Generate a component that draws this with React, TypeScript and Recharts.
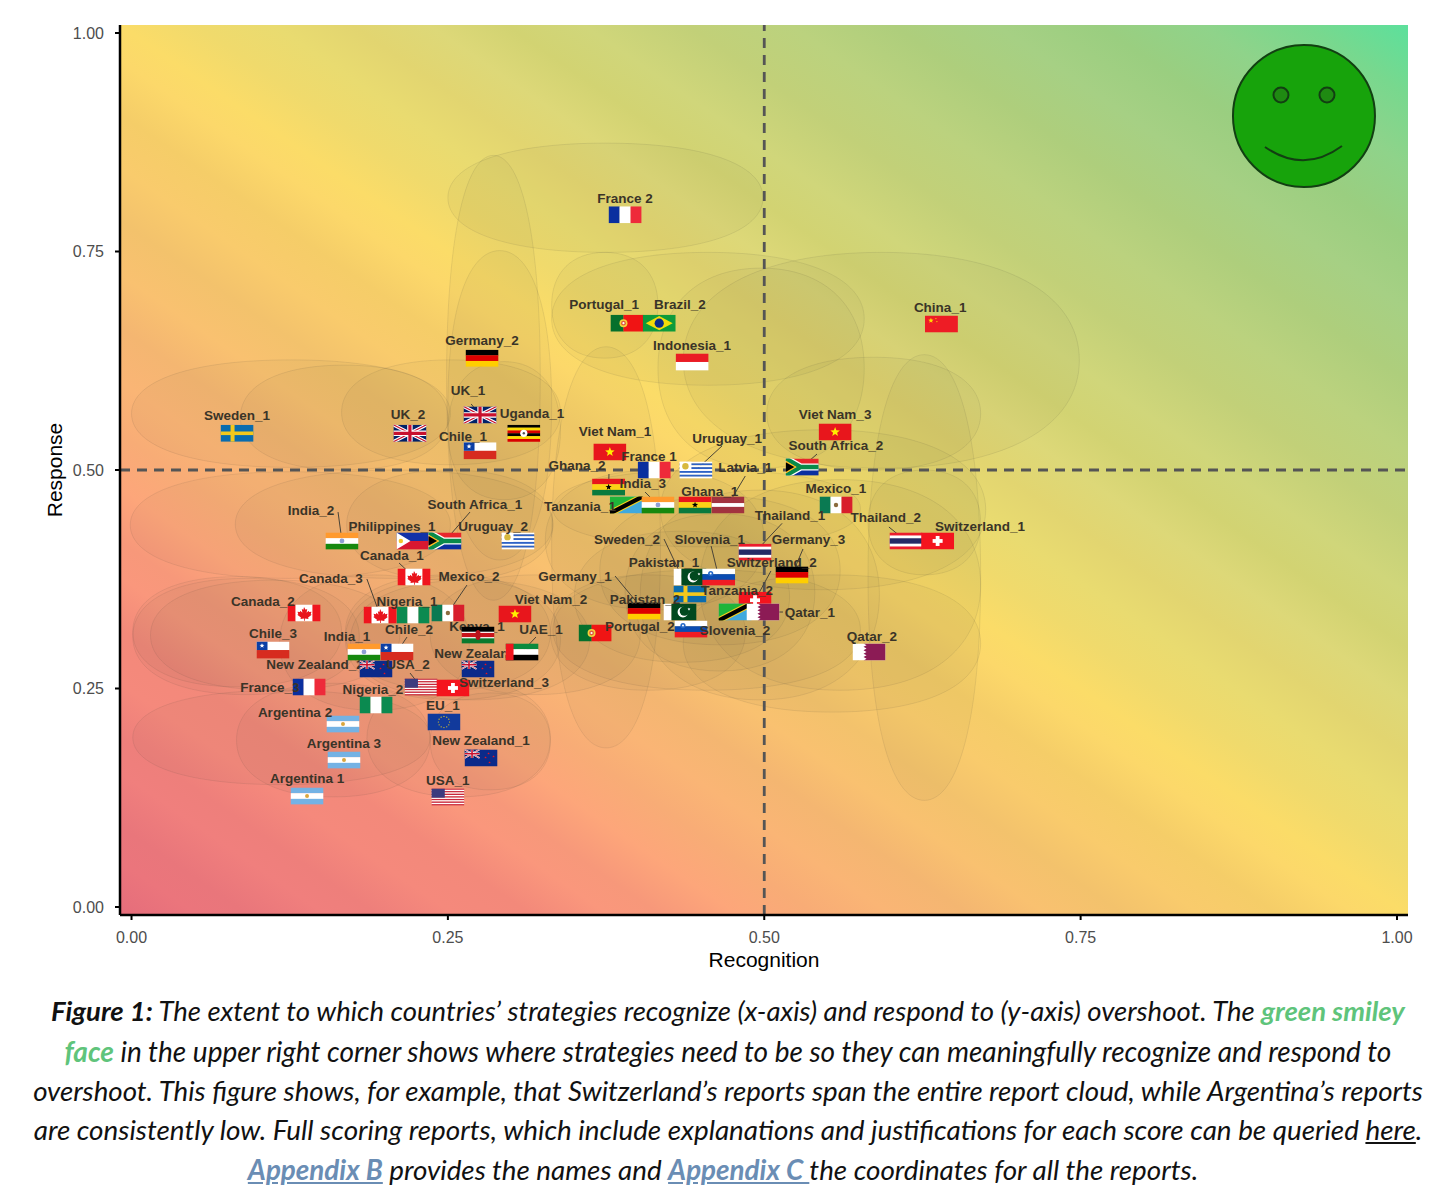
import type { ReactNode } from 'react';
import {
  ReferenceArea,
  ReferenceLine,
  Scatter,
  ScatterChart,
  XAxis,
  YAxis,
} from 'recharts';

// reports, in the drawing order of the flags
const reportNames = [
  'France 2', 'China_1', 'Portugal_1', 'Brazil_2', 'Indonesia_1', 'Germany_2', 'UK_1', 'Uganda_1', 'UK_2', 'Sweden_1',
  'Chile_1', 'Viet Nam_1', 'Viet Nam_3', 'Uruguay_1', 'South Africa_2', 'France 1', 'Ghana_1', 'Latvia_1', 'Ghana_2', 'Tanzania_1',
  'India_3', 'Mexico_1', 'Thailand_1', 'Thailand_2', 'Switzerland_1', 'Germany_3', 'Switzerland_2', 'Sweden_2', 'Pakistan_1', 'Slovenia_1',
  'Germany_1', 'Pakistan_2', 'Tanzania_2', 'Qatar_1', 'Qatar_2', 'Slovenia_2', 'Portugal_2', 'Viet Nam_2', 'New Zealand_3', 'UAE_1',
  'Kenya_1', 'Nigeria_1', 'Mexico_2', 'Canada_1', 'Canada_3', 'Canada_2', 'Philippines_1', 'South Africa_1', 'Uruguay_2', 'India_2',
  'Chile_3', 'India_1', 'Chile_2', 'New Zealand_2', 'USA_2', 'Switzerland_3', 'France_3', 'Nigeria_2', 'Argentina 2', 'EU_1',
  'Argentina 3', 'New Zealand_1', 'Argentina 1', 'USA_1',
];
const flagCodes = [
  'fr', 'cn', 'pt', 'br', 'id', 'de', 'uk', 'ug', 'uk', 'se',
  'cl', 'vn', 'vn', 'uy', 'za', 'fr', 'gh', 'lv', 'gh', 'tz',
  'in', 'mx', 'th', 'th', 'ch', 'de', 'ch', 'se', 'pk', 'si',
  'de', 'pk', 'tz', 'qa', 'qa', 'si', 'pt', 'vn', 'nz', 'ae',
  'ke', 'ng', 'mx', 'ca', 'ca', 'ca', 'ph', 'za', 'uy', 'in',
  'cl', 'in', 'cl', 'nz', 'us', 'ch', 'fr', 'ng', 'ar', 'eu',
  'ar', 'nz', 'ar', 'us',
];
const recognition = [
  0.390, 0.640, 0.3915, 0.417, 0.443, 0.277, 0.2754, 0.310, 0.220, 0.0834,
  0.2754, 0.378, 0.556, 0.446, 0.530, 0.413, 0.4453, 0.4713, 0.377, 0.391,
  0.416, 0.5567, 0.4927, 0.612, 0.637, 0.5219, 0.4927, 0.4413, 0.4413, 0.464,
  0.405, 0.4334, 0.477, 0.499, 0.5828, 0.4421, 0.3663, 0.303, 0.2738, 0.3086,
  0.2738, 0.2224, 0.250, 0.2232, 0.1964, 0.1363, 0.2224, 0.2477, 0.3054, 0.1663,
  0.1118, 0.1837, 0.2098, 0.1932, 0.2288, 0.254, 0.1403, 0.1932, 0.1671, 0.2469,
  0.1679, 0.2762, 0.1387, 0.250,
];
const response = [
  0.792, 0.667, 0.668, 0.668, 0.6236, 0.628, 0.563, 0.542, 0.542, 0.542,
  0.522, 0.5206, 0.5435, 0.500, 0.5034, 0.500, 0.460, 0.460, 0.4805, 0.460,
  0.460, 0.460, 0.406, 0.4188, 0.4188, 0.380, 0.351, 0.358, 0.3776, 0.3776,
  0.3387, 0.3375, 0.3375, 0.3375, 0.2918, 0.318, 0.3135, 0.3352, 0.2723, 0.2918,
  0.3112, 0.334, 0.3364, 0.3776, 0.334, 0.3364, 0.4188, 0.4188, 0.4188, 0.4188,
  0.294, 0.2918, 0.2918, 0.2723, 0.2517, 0.2506, 0.2517, 0.2311, 0.2094, 0.2117,
  0.1682, 0.1705, 0.127, 0.1259,
];
const labelX = [
  0.390, 0.639, 0.3734, 0.4334, 0.443, 0.277, 0.2659, 0.3165, 0.2185, 0.0834,
  0.262, 0.382, 0.556, 0.4706, 0.5567, 0.409, 0.457, 0.485, 0.352, 0.3544,
  0.404, 0.5567, 0.5203, 0.596, 0.6705, 0.535, 0.506, 0.3915, 0.4208, 0.457,
  0.3505, 0.4058, 0.4785, 0.536, 0.585, 0.4769, 0.4018, 0.3315, 0.2778, 0.3236,
  0.273, 0.2177, 0.2667, 0.2058, 0.1576, 0.1039, 0.2058, 0.2714, 0.2857, 0.1418,
  0.1118, 0.1703, 0.2193, 0.145, 0.2185, 0.2943, 0.1094, 0.1908, 0.1292, 0.2461,
  0.1679, 0.2762, 0.1387, 0.250,
];
const labelY = [
  0.811, 0.686, 0.689, 0.689, 0.643, 0.648, 0.5915, 0.565, 0.564, 0.562,
  0.538, 0.5435, 0.563, 0.5366, 0.5275, 0.516, 0.475, 0.5023, 0.5046, 0.4577,
  0.484, 0.4794, 0.4485, 0.446, 0.4348, 0.420, 0.3936, 0.421, 0.3936, 0.421,
  0.3787, 0.3513, 0.3627, 0.3375, 0.309, 0.3158, 0.3204, 0.3513, 0.2906, 0.318,
  0.3204, 0.350, 0.3776, 0.4027, 0.3753, 0.349, 0.4348, 0.461, 0.4348, 0.4542,
  0.3135, 0.310, 0.318, 0.278, 0.2769, 0.2563, 0.2506, 0.2494, 0.2231, 0.230,
  0.1876, 0.19, 0.1465, 0.1453,
];
// these few sit below the flags, every other label is on top of them
const labelsBehindFlags = ['Kenya_1', 'New Zealand_3', 'New Zealand_2'];

// leader lines: report, where the line leaves its label (x, y)
const leaders: [string, number, number][] = [
  ['UK_1', 0.2684, 0.5755], ['Uruguay_1', 0.4666, 0.5275], ['South Africa_2', 0.5417, 0.5183], ['Latvia_1', 0.485, 0.4931],
  ['Ghana_2', 0.3773, 0.4954], ['India_3', 0.4058, 0.4748], ['Thailand_1', 0.5141, 0.439], ['Thailand_2', 0.5985, 0.4348],
  ['Germany_3', 0.5306, 0.4096], ['Switzerland_2', 0.5053, 0.3845], ['Sweden_2', 0.4208, 0.421], ['Slovenia_1', 0.458, 0.4130],
  ['Germany_1', 0.3821, 0.3787], ['Qatar_1', 0.5148, 0.3375], ['UAE_1', 0.3196, 0.3089], ['Mexico_2', 0.2651, 0.3684],
  ['Canada_1', 0.2114, 0.3936], ['Canada_3', 0.186, 0.3753], ['South Africa_1', 0.2675, 0.4519], ['India_2', 0.1632, 0.4519],
  ['Chile_2', 0.2177, 0.3089], ['USA_2', 0.2201, 0.2677],
];

// the pale report clouds: xMin, xMax, yMin, yMax
const clouds: [number, number, number, number][] = [
  [0.25, 0.499, 0.749, 0.874], [0.249, 0.323, 0.351, 0.86], [0.25, 0.332, 0.397, 0.751], [0.332, 0.416, 0.628, 0.749],
  [0.332, 0.579, 0.597, 0.749], [0.416, 0.579, 0.502, 0.731], [0.436, 0.749, 0.502, 0.749], [0.502, 0.671, 0.5, 0.629],
  [0.582, 0.671, 0.122, 0.632], [0.332, 0.418, 0.182, 0.641], [0, 0.252, 0.503, 0.626], [0.086, 0.25, 0.5, 0.62],
  [0.166, 0.339, 0.506, 0.626], [0.25, 0.339, 0.466, 0.624], [-0.001, 0.252, 0.376, 0.498], [0.082, 0.333, 0.376, 0.5],
  [0.17, 0.333, 0.374, 0.5], [0.327, 0.5, 0.34, 0.5], [0.333, 0.576, 0.412, 0.5], [0.418, 0.675, 0.363, 0.546],
  [0.582, 0.671, 0.38, 0.5], [0.449, 0.671, 0.248, 0.489], [0.402, 0.591, 0.237, 0.477], [0.436, 0.671, 0.223, 0.38],
  [0.333, 0.576, 0.248, 0.386], [0.331, 0.485, 0.248, 0.38], [0.001, 0.166, 0.252, 0.378], [0.001, 0.18, 0.243, 0.376],
  [0.015, 0.212, 0.248, 0.374], [0.169, 0.331, 0.248, 0.38], [0.169, 0.339, 0.237, 0.376], [0.173, 0.362, 0.237, 0.374],
  [0.236, 0.402, 0.243, 0.38], [0.001, 0.236, 0.14, 0.248], [0.083, 0.236, 0.126, 0.256],
  [0.186, 0.331, 0.126, 0.26], [0.236, 0.331, 0.134, 0.245], [0.117, 0.267, 0.225, 0.38],
  [0.37, 0.56, 0.3, 0.47], [0.39, 0.54, 0.27, 0.45], [0.35, 0.52, 0.28, 0.43],
];

const tickValues = [0, 0.25, 0.5, 0.75, 1];
const smileyPoint = [{ x: 0.9265, y: 0.905 }];

const reports = reportNames.map((name, i) => ({
  name,
  flag: flagCodes[i],
  x: recognition[i],
  y: response[i],
}));
const labels = reportNames.map((name, i) => ({ name, x: labelX[i], y: labelY[i] }));
const backLabels = labels.filter(l => labelsBehindFlags.includes(l.name));
const frontLabels = labels.filter(l => !labelsBehindFlags.includes(l.name));

const FONT = '"Liberation Sans", Arial, sans-serif';
const FLAG_W = 33;
const FLAG_H = 17;

function Star({ cx, cy, r, fill }: { cx: number; cy: number; r: number; fill: string }) {
  const pts: string[] = [];
  for (let i = 0; i < 10; i++) {
    const a = -Math.PI / 2 + (i * Math.PI) / 5;
    const rr = i % 2 === 0 ? r : r * 0.42;
    pts.push(`${cx + rr * Math.cos(a)},${cy + rr * Math.sin(a)}`);
  }
  return <polygon points={pts.join(' ')} fill={fill} />;
}

function hBars(colors: string[]) {
  const h = FLAG_H / colors.length;
  return colors.map((c, i) => <rect key={i} x={0} y={i * h} width={FLAG_W} height={h + 0.2} fill={c} />);
}

function vBars(colors: string[], widths: number[]) {
  let at = 0;
  return colors.map((c, i) => {
    const el = <rect key={i} x={at} y={0} width={widths[i] + 0.2} height={FLAG_H} fill={c} />;
    at += widths[i];
    return el;
  });
}

function unionJack(w: number, h: number) {
  const sw = h / 17;
  return (
    <g>
      <rect width={w} height={h} fill="#012169" />
      <path d={`M0 0L${w} ${h}M${w} 0L0 ${h}`} stroke="#fff" strokeWidth={3.4 * sw} />
      <path d={`M0 0L${w} ${h}M${w} 0L0 ${h}`} stroke="#C8102E" strokeWidth={1.2 * sw} />
      <path d={`M${w / 2} 0V${h}M0 ${h / 2}H${w}`} stroke="#fff" strokeWidth={5.4 * sw} />
      <path d={`M${w / 2} 0V${h}M0 ${h / 2}H${w}`} stroke="#C8102E" strokeWidth={3.2 * sw} />
    </g>
  );
}

const MAPLE = 'M16.5 2.5l1.6 2.8 1.6-.7-.6 3.6 2-2 .5 1.4 2.4-.4-.8 2.5 1 .6-3.6 2.8.4 1.3-3.6-.5v2.4h-.8v-2.4l-3.6.5.4-1.3-3.6-2.8 1-.6-.8-2.5 2.4.4.5-1.4 2 2-.6-3.6 1.6.7z';

const flags: Record<string, () => ReactNode> = {
  se: () => (
    <>
      <rect width={33} height={17} fill="#0A6CAE" />
      <rect x={10} width={4} height={17} fill="#F4C81C" />
      <rect y={6.7} width={33} height={3.6} fill="#F4C81C" />
    </>
  ),
  uk: () => unionJack(33, 17),
  ug: () => (
    <>
      {hBars(['#000', '#FCDC04', '#D90000', '#000', '#FCDC04', '#D90000'])}
      <circle cx={16.5} cy={8.5} r={3.6} fill="#fff" />
      <circle cx={16.5} cy={8.5} r={1.2} fill="#555" />
    </>
  ),
  cl: () => (
    <>
      {hBars(['#fff', '#D72B1F'])}
      <rect width={11} height={8.5} fill="#0B3FA5" />
      <Star cx={5.5} cy={4.2} r={2.6} fill="#fff" />
    </>
  ),
  de: () => hBars(['#000', '#DD0000', '#FFCE00']),
  fr: () => vBars(['#0A2F9F', '#fff', '#EE2A3A'], [11, 11, 11]),
  pt: () => (
    <>
      {vBars(['#06702C', '#F01414'], [13, 20])}
      <circle cx={13} cy={8.5} r={4} fill="#F3D33A" />
      <circle cx={13} cy={8.5} r={2.4} fill="#E05A3C" />
      <circle cx={13} cy={8.5} r={1.1} fill="#fff" />
    </>
  ),
  br: () => (
    <>
      <rect width={33} height={17} fill="#0E9B3B" />
      <polygon points="3,8.5 16.5,1.4 30,8.5 16.5,15.6" fill="#F4DC0A" />
      <circle cx={16.5} cy={8.5} r={4.6} fill="#0C2E8A" />
    </>
  ),
  id: () => hBars(['#EA1C24', '#fff']),
  cn: () => (
    <>
      <rect width={33} height={17} fill="#EE1C25" />
      <Star cx={6} cy={5} r={2.8} fill="#FFDE00" />
      <circle cx={11} cy={3} r={0.6} fill="#FFDE00" />
      <circle cx={12} cy={6} r={0.6} fill="#FFDE00" />
    </>
  ),
  vn: () => (
    <>
      <rect width={33} height={17} fill="#E8161C" />
      <Star cx={16.5} cy={8.5} r={5} fill="#FFEE00" />
    </>
  ),
  za: () => (
    <>
      {hBars(['#E8262C', '#0B2FA0'])}
      <path d="M0 0L15 8.5L0 17M15 8.5H33" stroke="#fff" strokeWidth={7} fill="none" />
      <path d="M0 0L15 8.5L0 17M15 8.5H33" stroke="#0A8A4A" strokeWidth={4.4} fill="none" />
      <polygon points="0,2 11,8.5 0,15" fill="#FFB81C" />
      <polygon points="0,3.6 8.6,8.5 0,13.4" fill="#000" />
    </>
  ),
  uy: () => (
    <>
      {hBars(['#fff', '#2D62C6', '#fff', '#2D62C6', '#fff', '#2D62C6', '#fff', '#2D62C6', '#fff'])}
      <rect width={12} height={9.5} fill="#fff" />
      <circle cx={6} cy={4.7} r={3.2} fill="#D7B83E" />
    </>
  ),
  lv: () => (
    <>
      <rect width={33} height={17} fill="#A2333F" />
      <rect y={6.6} width={33} height={3.8} fill="#fff" />
    </>
  ),
  gh: () => (
    <>
      {hBars(['#E8161C', '#FCD116', '#0A7A3E'])}
      <Star cx={16.5} cy={8.5} r={3.2} fill="#000" />
    </>
  ),
  in: () => (
    <>
      {hBars(['#FF9A2E', '#fff', '#16880E'])}
      <circle cx={16.5} cy={8.5} r={2.4} fill="#8E9FD6" />
    </>
  ),
  tz: () => (
    <>
      <rect width={33} height={17} fill="#3FA9DE" />
      <polygon points="0,0 33,0 0,17" fill="#1EB53A" />
      <path d="M0 17L33 0" stroke="#F8D01E" strokeWidth={6.4} />
      <path d="M0 17L33 0" stroke="#000" strokeWidth={4.2} />
    </>
  ),
  mx: () => (
    <>
      {vBars(['#0A7A52', '#fff', '#D81E2C'], [11, 11, 11])}
      <circle cx={16.5} cy={8.5} r={2.2} fill="#8B6B3E" />
    </>
  ),
  th: () => (
    <>
      <rect width={33} height={17} fill="#EC1C2C" />
      <rect y={3} width={33} height={11} fill="#fff" />
      <rect y={5.8} width={33} height={5.4} fill="#252A66" />
    </>
  ),
  ch: () => (
    <>
      <rect width={33} height={17} fill="#F4141E" />
      <rect x={14.6} y={3.5} width={3.8} height={10} fill="#fff" />
      <rect x={11.5} y={6.6} width={10} height={3.8} fill="#fff" />
    </>
  ),
  ph: () => (
    <>
      {hBars(['#1231A8', '#D81830'])}
      <polygon points="0,0 14,8.5 0,17" fill="#fff" />
      <circle cx={4.4} cy={8.5} r={2.2} fill="#F2C62C" />
    </>
  ),
  ca: () => (
    <>
      {vBars(['#F0141E', '#fff', '#F0141E'], [8, 17, 8])}
      <path d={MAPLE} fill="#E8141C" />
    </>
  ),
  pk: () => (
    <>
      {vBars(['#fff', '#01491F'], [8, 25])}
      <circle cx={19.5} cy={8.5} r={5.4} fill="#fff" />
      <circle cx={21} cy={7.5} r={4.8} fill="#01491F" />
      <Star cx={25.5} cy={5.6} r={1.6} fill="#fff" />
    </>
  ),
  si: () => (
    <>
      {hBars(['#fff', '#0A4CB2', '#F01C24'])}
      <circle cx={8.5} cy={5} r={2.6} fill="#2468C8" />
      <circle cx={8.5} cy={5} r={1} fill="#fff" />
    </>
  ),
  qa: () => (
    <>
      <rect width={33} height={17} fill="#fff" />
      <polygon
        points="33,0 33,17 11,17 14,15.3 11,13.6 14,11.9 11,10.2 14,8.5 11,6.8 14,5.1 11,3.4 14,1.7 11,0"
        fill="#8C1B55"
      />
    </>
  ),
  ng: () => vBars(['#0B8A50', '#fff', '#0B8A50'], [11, 11, 11]),
  ke: () => (
    <>
      {hBars(['#000', '#C8141C', '#0A7A2E'])}
      <rect y={5.2} width={33} height={1.2} fill="#fff" />
      <rect y={10.6} width={33} height={1.2} fill="#fff" />
      <ellipse cx={16.5} cy={8.5} rx={2.6} ry={5} fill="#B8141C" />
    </>
  ),
  ae: () => (
    <>
      {hBars(['#0A8A3E', '#fff', '#000'])}
      <rect width={8} height={17} fill="#F0141E" />
    </>
  ),
  nz: () => (
    <>
      <rect width={33} height={17} fill="#0B2A8A" />
      {unionJack(15, 8.5)}
      <Star cx={24} cy={4} r={1.3} fill="#E8141C" />
      <Star cx={29} cy={7} r={1.3} fill="#E8141C" />
      <Star cx={21} cy={8} r={1.3} fill="#E8141C" />
      <Star cx={25} cy={13} r={1.3} fill="#E8141C" />
    </>
  ),
  us: () => (
    <>
      {hBars(['#C8283C', '#fff', '#C8283C', '#fff', '#C8283C', '#fff', '#C8283C', '#fff', '#C8283C', '#fff', '#C8283C', '#fff', '#C8283C'])}
      <rect width={13.4} height={9.2} fill="#3C3B7E" />
    </>
  ),
  ar: () => (
    <>
      {hBars(['#74B2E4', '#fff', '#74B2E4'])}
      <circle cx={16.5} cy={8.5} r={2} fill="#D9A63E" />
    </>
  ),
  eu: () => (
    <>
      <rect width={33} height={17} fill="#113A9C" />
      {Array.from({ length: 12 }, (_, i) => (
        <circle
          key={i}
          cx={16.5 + 5.6 * Math.cos((i * Math.PI) / 6)}
          cy={8.5 + 5.6 * Math.sin((i * Math.PI) / 6)}
          r={0.6}
          fill="#F2D21C"
        />
      ))}
    </>
  ),
};

function FlagMark(props: any) {
  const { cx, cy, payload } = props;
  const draw = flags[payload.flag];
  return (
    <svg x={cx - FLAG_W / 2} y={cy - FLAG_H / 2} width={FLAG_W} height={FLAG_H} viewBox={`0 0 ${FLAG_W} ${FLAG_H}`}>
      {draw ? draw() : null}
    </svg>
  );
}

function ReportLabel(props: any) {
  const { cx, cy, payload } = props;
  return (
    <text
      x={cx}
      y={cy}
      textAnchor="middle"
      dominantBaseline="central"
      fontFamily={FONT}
      fontWeight={700}
      fontSize={13.5}
      fill="#3a3428"
    >
      {payload.name}
    </text>
  );
}

// ggforce-ish rounded ellipse, a bit fuller than a true one
function Cloud(props: any) {
  const { x, y, width, height } = props;
  const rx = width / 2;
  const ry = height / 2;
  const mx = x + rx;
  const my = y + ry;
  const k = 0.62;
  const d = [
    `M${mx - rx} ${my}`,
    `C${mx - rx} ${my - k * ry} ${mx - k * rx} ${my - ry} ${mx} ${my - ry}`,
    `C${mx + k * rx} ${my - ry} ${mx + rx} ${my - k * ry} ${mx + rx} ${my}`,
    `C${mx + rx} ${my + k * ry} ${mx + k * rx} ${my + ry} ${mx} ${my + ry}`,
    `C${mx - k * rx} ${my + ry} ${mx - rx} ${my + k * ry} ${mx - rx} ${my}Z`,
  ].join('');
  return <path d={d} fill="rgba(75,70,60,0.038)" stroke="rgba(75,70,60,0.11)" strokeWidth={1} />;
}

function Smiley(props: any) {
  const { cx, cy } = props;
  return (
    <g>
      <circle cx={cx} cy={cy} r={71} fill="#17A30B" stroke="#123F12" strokeWidth={2} />
      <circle cx={cx - 23} cy={cy - 21} r={7.5} fill="#1F8A12" stroke="#123F12" strokeWidth={2} />
      <circle cx={cx + 23} cy={cy - 21} r={7.5} fill="#1F8A12" stroke="#123F12" strokeWidth={2} />
      <path
        d={`M${cx - 39} ${cy + 31}Q${cx} ${cy + 58} ${cx + 38} ${cy + 30}`}
        fill="none"
        stroke="#123F12"
        strokeWidth={2}
      />
    </g>
  );
}

// the reference background has soft diagonal banding, so the stops wobble a little
const bgStops: [number, string][] = [
  [0, '#E56D7B'], [0.03, '#EB757C'], [0.05, '#E9767B'], [0.08, '#F07F7D'], [0.1, '#EE7F7B'],
  [0.13, '#F5897C'], [0.16, '#F3897A'], [0.19, '#FA977C'], [0.21, '#F7987A'], [0.24, '#FDA67A'],
  [0.27, '#F8AC76'], [0.3, '#FAB575'], [0.33, '#F4B671'], [0.36, '#F9C170'], [0.39, '#F3C26C'],
  [0.42, '#F9CB6C'], [0.45, '#F5CD68'], [0.48, '#FCD86A'], [0.5, '#FBDC68'], [0.53, '#F0DA6C'],
  [0.56, '#E9DB70'], [0.59, '#E2D570'], [0.62, '#DDD878'], [0.65, '#D2D372'], [0.68, '#D0D67A'],
  [0.72, '#C2D078'], [0.76, '#BBD27E'], [0.8, '#AECE7C'], [0.84, '#A6D084'], [0.88, '#9ACE80'],
  [0.92, '#8FD38A'], [0.96, '#78D88E'], [1, '#5CE09C'],
];

const captionLine: React.CSSProperties = {
  position: 'absolute',
  left: 0,
  width: 1456,
  textAlign: 'center',
  whiteSpace: 'nowrap',
  fontFamily: 'Lato, sans-serif',
  fontStyle: 'italic',
  lineHeight: '40px',
  color: '#111',
};
const blueLink: React.CSSProperties = { color: '#6A8DB4', fontWeight: 700, textDecoration: 'underline' };
const axisTick = { fill: '#4d4d4d', fontSize: 16, fontFamily: FONT };

export default function App() {
  return (
    <div style={{ position: 'absolute', left: 0, top: 0, width: 1456, height: 1197, background: '#fff', overflow: 'hidden' }}>
      <ScatterChart width={1456} height={975} margin={{ top: 25, right: 48, bottom: 0, left: 0 }}>
        <defs>
          <linearGradient id="overshootBg" x1="0" y1="1" x2="1" y2="0">
            {bgStops.map(([o, c]) => (
              <stop key={o} offset={o} stopColor={c} />
            ))}
          </linearGradient>
        </defs>
        <XAxis
          type="number"
          dataKey="x"
          domain={[-0.0091, 1.0087]}
          allowDataOverflow
          ticks={tickValues}
          tickFormatter={(v: number) => v.toFixed(2)}
          height={60}
          tickSize={5}
          tickMargin={12}
          axisLine={{ stroke: '#000', strokeWidth: 2.5 }}
          tickLine={{ stroke: '#000', strokeWidth: 2 }}
          tick={axisTick}
          label={{ value: 'Recognition', position: 'insideBottom', offset: 8, fill: '#000', fontSize: 21, fontFamily: FONT }}
        />
        <YAxis
          type="number"
          dataKey="y"
          domain={[-0.00915, 1.00915]}
          allowDataOverflow
          ticks={tickValues}
          tickFormatter={(v: number) => v.toFixed(2)}
          width={120}
          tickSize={5}
          tickMargin={11}
          axisLine={{ stroke: '#000', strokeWidth: 2.5 }}
          tickLine={{ stroke: '#000', strokeWidth: 2 }}
          tick={axisTick}
          label={{ value: 'Response', angle: -90, position: 'insideLeft', offset: 55, fill: '#000', fontSize: 21, fontFamily: FONT, style: { textAnchor: 'middle' } }}
        />
        <ReferenceArea
          x1={-0.0091}
          x2={1.0087}
          y1={-0.00915}
          y2={1.00915}
          fill="url(#overshootBg)"
          fillOpacity={1}
          stroke="none"
        />
        {clouds.map(([x1, x2, y1, y2], i) => (
          <ReferenceArea key={i} x1={x1} x2={x2} y1={y1} y2={y2} shape={Cloud} ifOverflow="visible" />
        ))}
        <ReferenceLine x={0.5} stroke="#555" strokeWidth={2.8} strokeDasharray="10 7" />
        <ReferenceLine y={0.5} stroke="#555" strokeWidth={2.8} strokeDasharray="10 7" />
        <Scatter data={backLabels} shape={ReportLabel} isAnimationActive={false} />
        <Scatter data={reports} shape={FlagMark} isAnimationActive={false} />
        <Scatter data={frontLabels} shape={ReportLabel} isAnimationActive={false} />
        {leaders.map(([name, x, y]) => {
          const i = reportNames.indexOf(name);
          return (
            <ReferenceLine
              key={name}
              segment={[{ x, y }, { x: recognition[i], y: response[i] }]}
              stroke="#4a4438"
              strokeWidth={1}
            />
          );
        })}
        <Scatter data={smileyPoint} shape={Smiley} isAnimationActive={false} />
      </ScatterChart>

      <div style={{ ...captionLine, top: 991, fontSize: 27.5 }}>
        <b>Figure 1:</b> The extent to which countries’ strategies recognize (x-axis) and respond to (y-axis) overshoot. The{' '}
        <span style={{ color: '#5FC47B', fontWeight: 700 }}>green smiley</span>
      </div>
      <div style={{ ...captionLine, top: 1031, fontSize: 28 }}>
        <span style={{ color: '#5FC47B', fontWeight: 700 }}>face</span> in the upper right corner shows where strategies need to be so they can meaningfully recognize and respond to
      </div>
      <div style={{ ...captionLine, top: 1071, fontSize: 27.66 }}>
        overshoot. This figure shows, for example, that Switzerland’s reports span the entire report cloud, while Argentina’s reports
      </div>
      <div style={{ ...captionLine, top: 1110, fontSize: 27.84 }}>
        are consistently low. Full scoring reports, which include explanations and justifications for each score can be queried <u>here</u>.
      </div>
      <div style={{ ...captionLine, top: 1150, left: -5, fontSize: 27.77 }}>
        <span style={blueLink}>Appendix B</span> provides the names and <span style={blueLink}>Appendix C </span>the coordinates for all the reports.
      </div>
    </div>
  );
}
